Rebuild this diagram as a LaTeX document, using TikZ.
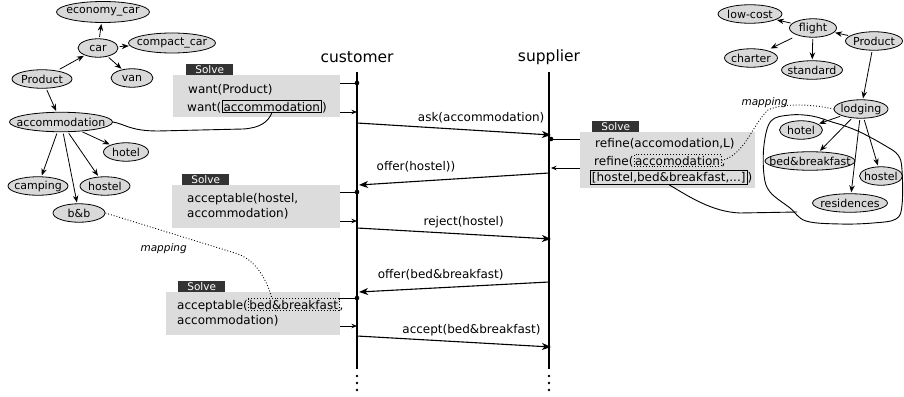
\documentclass[tikz,border=0pt]{standalone}
\usepackage{fontspec}
\setmainfont{DejaVu Sans}
\usetikzlibrary{arrows.meta,shapes.geometric,calc}

\definecolor{boxgrey}{HTML}{DCDCDC}
\definecolor{ovalgrey}{HTML}{D9D9D9}
\definecolor{tagdark}{HTML}{333333}

\begin{document}
\begin{tikzpicture}[x=1pt,y=-1pt,
  onto/.style={ellipse, draw, line width=0.8pt, fill=ovalgrey, inner sep=0pt,
    minimum height=18.5pt, font=\fontsize{11}{12}\selectfont},
  isa/.style={-{Stealth[length=7pt,width=5.5pt]}, line width=0.8pt,
    shorten <=1.5pt, shorten >=1pt},
  btxt/.style={inner sep=0pt, anchor=base west, font=\fontsize{12}{14}\selectfont},
  solvebox/.style={fill=boxgrey, draw=none, inner sep=0pt, anchor=north west},
  tag/.style={fill=tagdark, text=white, inner sep=0pt, minimum height=11pt,
    minimum width=47pt, anchor=south west, font=\fontsize{10.5}{12}\selectfont},
  life/.style={line width=1.4pt},
  lifehead/.style={anchor=base, inner sep=0pt, font=\fontsize{15.5}{18}\selectfont},
  msg/.style={line width=1.1pt, -{Stealth[length=9pt,width=7pt,inset=2.5pt]}},
  lab/.style={anchor=base, inner sep=0pt, yshift=9pt, font=\fontsize{12}{14}\selectfont},
  hook/.style={line width=0.9pt, -{Stealth[length=5.5pt,width=4.5pt]}},
  pin/.style={line width=0.9pt},
  link/.style={line width=0.9pt},
  map/.style={dotted, line width=0.9pt},
  maplab/.style={inner sep=0pt, anchor=base east, font=\fontsize{10.5}{12}\itshape},
]
\useasboundingbox (0,0) rectangle (904,396);

% ---------- left ontology ----------
\node[onto, minimum width=93pt, minimum height=21pt] (ecar) at (103,12) {\makebox[0pt]{economy\_car}};
\node[onto, minimum width=40pt] (car) at (98,48) {\makebox[0pt]{car}};
\node[onto, minimum width=87pt, minimum height=20pt] (ccar) at (172,43) {\makebox[0pt]{compact\_car}};
\node[onto, minimum width=42pt] (van) at (132,78) {\makebox[0pt]{van}};
\node[onto, minimum width=60pt] (prodL) at (42,79) {\makebox[0pt]{Product}};
\node[onto, minimum width=103pt, minimum height=19.5pt] (accL) at (61,122) {\makebox[0pt]{accommodation}};
\node[onto, minimum width=45pt] (hotelL) at (126,152) {\makebox[0pt]{hotel}};
\node[onto, minimum width=60pt] (camp) at (38,186) {\makebox[0pt]{camping}};
\node[onto, minimum width=50pt] (hostelL) at (105,186) {\makebox[0pt]{hostel}};
\node[onto, minimum width=52pt] (bnb) at (79,213) {\makebox[0pt]{b\&b}};

\draw[isa, shorten <=3pt] (prodL) -- (car);
\draw[isa] (car) -- (ecar);
\draw[isa] (car) -- (ccar);
\draw[isa] (car) -- (van);
\draw[isa] (prodL) -- (accL);
\draw[isa] (accL) -- (hotelL);
\draw[isa] (accL) -- (camp);
\draw[isa] (accL) -- (hostelL);
\draw[isa] (accL) -- (bnb);

% ---------- right ontology ----------
\node[onto, minimum width=64pt] (lowc) at (750,14) {\makebox[0pt]{low-cost}};
\node[onto, minimum width=47pt] (flight) at (813,28) {\makebox[0pt]{flight}};
\node[onto, minimum width=57pt] (prodR) at (874,41) {\makebox[0pt]{Product}};
\node[onto, minimum width=53pt] (charter) at (751,58) {\makebox[0pt]{charter}};
\node[onto, minimum width=61pt] (std) at (812,70) {\makebox[0pt]{standard}};
\node[onto, minimum width=54pt] (lodg) at (861,109) {\makebox[0pt]{lodging}};
\node[onto, minimum width=43pt] (hotelR) at (801,130) {\makebox[0pt]{hotel}};
\node[onto, minimum width=90pt] (bbR) at (810,161) {\makebox[0pt]{bed\&breakfast}};
\node[onto, minimum width=43pt] (hostelR) at (881,176) {\makebox[0pt]{hostel}};
\node[onto, minimum width=75pt] (resid) at (850,203) {\makebox[0pt]{residences}};

\draw[isa] (prodR) -- (flight);
\draw[isa] (flight) -- (lowc);
\draw[isa, shorten <=6pt, shorten >=4pt] (flight) -- (charter);
\draw[isa] (flight) -- (std);
\draw[isa] (prodR) -- (lodg);
\draw[isa] (lodg) -- (hotelR);
\draw[isa] (lodg) -- (bbR);
\draw[isa] (lodg) -- (resid);
\draw[isa] (lodg) -- (hostelR);

% region of the lodging taxonomy
\draw[link] plot[smooth cycle, tension=0.6] coordinates {
  (832,122) (812,116) (790,115) (771,121) (764,145) (764,175) (770,192)
  (790,208) (806,221) (840,224) (873,223) (896,219) (902,205) (902,170)
  (898,155) (884,145) (862,133) (845,126)};

% ---------- lifelines ----------
\node[lifehead] (cust) at (357,63) {customer};
\node[lifehead] (supp) at (549,61) {supplier};
\coordinate (ctop) at (357,72);
\coordinate (cbot) at (357,369);
\coordinate (stop) at (549,72);
\coordinate (sbot) at (549,369);
\draw[life] (ctop) -- (cbot);
\draw[life] (stop) -- (sbot);
\foreach \yy in {376,383,390} {
  \fill (357,\yy) circle (1.4);
  \fill (549,\yy) circle (1.4);
}

% ---------- Solve boxes ----------
\node[solvebox, minimum width=167pt, minimum height=42pt] (box1) at (173,75) {};
\node[tag] (tag1) at ($(box1.north west)+(13,0)$) {Solve};
\node[btxt] (w1) at (188,93) {want(Product)};
\node[btxt] (w2a) at (187,111) {want(};
\node[btxt, draw, line width=0.9pt, inner sep=1.5pt] (w2b) at (w2a.base east) {accommodation};
\node[btxt] (w2c) at (w2b.base east) {)};

\node[solvebox, minimum width=175pt, minimum height=56pt] (box2) at (580,132) {};
\node[tag] (tag2) at ($(box2.north west)+(12,0)$) {Solve};
\node[btxt] (r1) at (595,147) {refine(accomodation,L)};
\node[btxt] (r2a) at (594,165) {refine(};
\node[btxt, draw, dotted, line width=0.9pt, inner sep=1pt] (r2b) at (r2a.base east) {accomodation};
\node[btxt] (r2c) at (r2b.base east) {,};
\node[btxt, draw, line width=0.9pt, inner sep=1.5pt] (r3a) at (590,181) {[hostel,bed\&breakfast,...]};
\node[btxt] (r3b) at (r3a.base east) {)};

\node[solvebox, minimum width=168pt, minimum height=43pt] (box3) at (172,185) {};
\node[tag] (tag3) at ($(box3.north west)+(10,0)$) {Solve};
\node[btxt] (a1) at (187,202) {acceptable(hostel,};
\node[btxt] (a2) at (187,217) {accommodation)};

\node[solvebox, minimum width=174pt, minimum height=43pt] (box4) at (166,292) {};
\node[tag] (tag4) at ($(box4.north west)+(12,0)$) {Solve};
\node[btxt] (b1a) at (177,309) {acceptable(};
\node[btxt, draw, dotted, line width=0.9pt, inner sep=1pt] (b1b) at (b1a.base east) {bed\&breakfast};
\node[btxt] (b1c) at (b1b.base east) {,};
\node[btxt] (b2) at (177,324) {accommodation)};

% ---------- box hooks on the lifelines ----------
\coordinate (k1) at (357,83);  \coordinate (k2) at (357,112);
\coordinate (k3) at (551,139); \coordinate (k4) at (551,168);
\coordinate (k5) at (357,192); \coordinate (k6) at (357,221);
\coordinate (k7) at (357,298); \coordinate (k8) at (357,326);
\draw[pin] (box1.east |- k1) -- (k1);  \fill (k1) circle (2.3);
\draw[hook] (box1.east |- k2) -- (k2);
\draw[pin] (box2.west |- k3) -- (k3);  \fill (k3) circle (2.3);
\draw[hook] (box2.west |- k4) -- (k4);
\draw[pin] (box3.east |- k5) -- (k5);  \fill (k5) circle (2.3);
\draw[hook] (box3.east |- k6) -- (k6);
\draw[pin] (box4.east |- k7) -- (k7);  \fill (k7) circle (2.3);
\draw[hook] (box4.east |- k8) -- (k8);

% ---------- messages ----------
\coordinate (m1a) at (357,123); \coordinate (m1b) at (551,135);
\coordinate (m2a) at (549,173); \coordinate (m2b) at (359,185);
\coordinate (m3a) at (357,228); \coordinate (m3b) at (551,239);
\coordinate (m4a) at (549,282); \coordinate (m4b) at (359,292);
\coordinate (m5a) at (357,336); \coordinate (m5b) at (551,347);
\draw[msg] (m1a) -- node[lab, pos=0.64] (l1) {ask(accommodation)} (m1b);
\draw[msg] (m2a) -- node[lab, pos=0.70, yshift=2pt] (l2) {offer(hostel))} (m2b);
\draw[msg] (m3a) -- node[lab, pos=0.55] (l3) {reject(hostel)} (m3b);
\draw[msg] (m4a) -- node[lab, pos=0.57] (l4) {offer(bed\&breakfast)} (m4b);
\draw[msg] (m5a) -- node[lab, pos=0.59] (l5) {accept(bed\&breakfast)} (m5b);

% ---------- links between ontologies and terms ----------
\draw[link] (accL.east) .. controls (125,124) and (130,131) .. (158,131)
  -- (243,129) .. controls (260,128) and (268,122) .. (w2b.south);
\draw[link] (r3a.south) .. controls (688,196) and (712,212) .. (740,213) -- (797,212);

\draw[map] (bnb.east) -- (238,254) .. controls (256,261) and (266,278)
  .. ($(b1b.north west)+(24,0)$);
\node[maplab] (mapL) at (187,251) {mapping};

\draw[map] (r2b.east) .. controls (745,155) and (752,125) .. (768,110)
  .. controls (782,103) and (812,104) .. (lodg.west);
\node[maplab] (mapR) at (788,105) {mapping};
\end{tikzpicture}
\end{document}
